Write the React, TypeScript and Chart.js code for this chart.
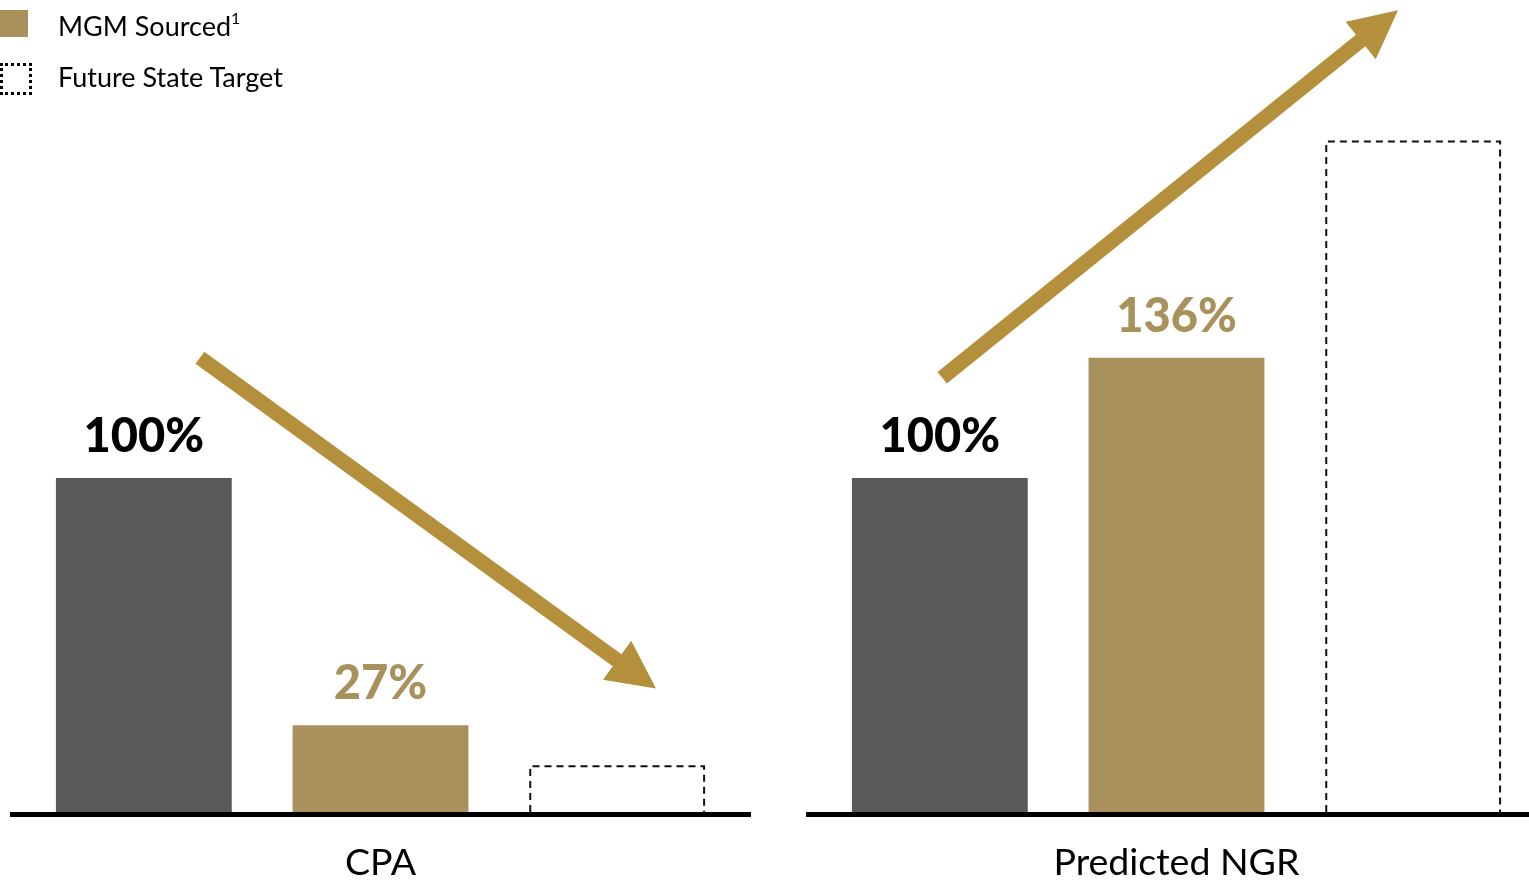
import React, { useEffect, useRef } from 'react';
import { Chart, registerables } from 'chart.js';

Chart.register(...registerables);

// ---- Data ----
const CATEGORIES = ['Current', 'MGM Sourced', 'Future State Target'];
const PANEL_TITLES = ['CPA', 'Predicted NGR'];
const CPA_VALUES = [100, 26, 14];
const CPA_LABELS = ['100%', '27%', ''];
const NGR_VALUES = [100, 136, 201];
const NGR_LABELS = ['100%', '136%', ''];
// arrows in data space: [fromCategoryIndex, fromValue, toCategoryIndex, toValue]
const CPA_ARROW = [0.237, 136, 2.164, 37];
const NGR_ARROW = [0.01, 130, 1.936, 240];
const Y_MAX = 243.1;
const LEGEND_ITEMS = ['MGM Sourced', 'Future State Target'];

const GRAY = '#595959';
const GOLD = '#a8915a';
const ARROW_GOLD = '#b5903c';
const FONT = 'Lato, "Open Sans", sans-serif';

function drawArrow(ctx: CanvasRenderingContext2D, x0: number, y0: number, x1: number, y1: number) {
  const shaft = 15;
  const headLen = 48;
  const headHalf = 24;
  const dx = x1 - x0;
  const dy = y1 - y0;
  const len = Math.hypot(dx, dy);
  const ux = dx / len;
  const uy = dy / len;
  const px = -uy;
  const py = ux;
  const bx = x1 - ux * headLen;
  const by = y1 - uy * headLen;
  ctx.save();
  ctx.fillStyle = ARROW_GOLD;
  ctx.beginPath();
  ctx.moveTo(x0 + px * shaft / 2, y0 + py * shaft / 2);
  ctx.lineTo(bx + px * shaft / 2, by + py * shaft / 2);
  ctx.lineTo(bx + px * headHalf, by + py * headHalf);
  ctx.lineTo(x1, y1);
  ctx.lineTo(bx - px * headHalf, by - py * headHalf);
  ctx.lineTo(bx - px * shaft / 2, by - py * shaft / 2);
  ctx.lineTo(x0 - px * shaft / 2, y0 - py * shaft / 2);
  ctx.closePath();
  ctx.fill();
  ctx.restore();
}

const panelPlugin = {
  id: 'panelDecor',
  afterDatasetsDraw(chart: any, _args: any, opts: any) {
    const ctx: CanvasRenderingContext2D = chart.ctx;
    const xs = chart.scales.x;
    const ys = chart.scales.y;
    const meta = chart.getDatasetMeta(0);
    const area = chart.chartArea;

    // dashed target bar
    const t = meta.data[2].getProps(['x', 'y', 'base', 'width'], true);
    const l = t.x - t.width / 2 + 1;
    const r = t.x + t.width / 2 - 1;
    ctx.save();
    ctx.strokeStyle = '#111';
    ctx.lineWidth = 2;
    ctx.setLineDash([7, 5]);
    ctx.beginPath();
    ctx.moveTo(l, t.base);
    ctx.lineTo(l, t.y + 1);
    ctx.lineTo(r, t.y + 1);
    ctx.lineTo(r, t.base);
    ctx.stroke();
    ctx.restore();

    // baseline
    ctx.save();
    ctx.fillStyle = '#000';
    ctx.fillRect(0, ys.getPixelForValue(0), chart.width, 5);
    ctx.restore();

    // value labels
    ctx.save();
    ctx.font = `900 47px ${FONT}`;
    ctx.textAlign = 'center';
    ctx.textBaseline = 'alphabetic';
    const labels: string[] = opts.labels;
    labels.forEach((lab, i) => {
      if (!lab) return;
      const el = meta.data[i];
      ctx.fillStyle = i === 0 ? '#000' : GOLD;
      ctx.fillText(lab, el.x, el.y - 26);
    });
    ctx.restore();

    // arrow
    const a: number[] = opts.arrow;
    drawArrow(
      ctx,
      xs.getPixelForValue(a[0]),
      ys.getPixelForValue(a[1]),
      xs.getPixelForValue(a[2]),
      ys.getPixelForValue(a[3])
    );

    // panel title
    ctx.save();
    ctx.font = `37.5px ${FONT}`;
    ctx.fillStyle = '#000';
    ctx.textAlign = 'center';
    ctx.textBaseline = 'alphabetic';
    ctx.fillText(opts.title, (area.left + area.right) / 2, 875);
    ctx.restore();
  },
};

function Panel(props: { values: number[]; labels: string[]; arrow: number[]; title: string; left: number }) {
  const ref = useRef<HTMLCanvasElement | null>(null);
  useEffect(() => {
    if (!ref.current) return;
    const chart = new Chart(ref.current, {
      type: 'bar',
      data: {
        labels: CATEGORIES,
        datasets: [
          {
            data: props.values,
            backgroundColor: [GRAY, GOLD, 'rgba(0,0,0,0)'],
            borderWidth: 0,
            barPercentage: 0.743,
            categoryPercentage: 1,
          },
        ],
      },
      options: {
        animation: false,
        responsive: true,
        maintainAspectRatio: false,
        layout: { padding: { left: 15.5, right: 15.5, top: 0, bottom: 68 } },
        scales: {
          x: { display: false },
          y: { display: false, min: 0, max: Y_MAX },
        },
        plugins: {
          legend: { display: false },
          tooltip: { enabled: false },
          panelDecor: { labels: props.labels, arrow: props.arrow, title: props.title },
        } as any,
      },
      plugins: [panelPlugin as any],
    });
    return () => chart.destroy();
  }, []);
  return (
    <div style={{ position: 'absolute', left: props.left, top: 0, width: 741, height: 880 }}>
      <canvas ref={ref} />
    </div>
  );
}

export default function App() {
  return (
    <div
      style={{
        position: 'fixed',
        left: 0,
        top: 0,
        width: 1529,
        height: 880,
        overflow: 'hidden',
        background: '#fff',
        fontFamily: FONT,
      }}
    >
      <Panel values={CPA_VALUES} labels={CPA_LABELS} arrow={CPA_ARROW} title={PANEL_TITLES[0]} left={10} />
      <Panel values={NGR_VALUES} labels={NGR_LABELS} arrow={NGR_ARROW} title={PANEL_TITLES[1]} left={806} />
      {/* legend */}
      <div style={{ position: 'absolute', left: 0, top: 10, width: 28, height: 27, background: GOLD }} />
      <div
        style={{
          position: 'absolute',
          left: 58,
          top: 12,
          fontSize: 27,
          lineHeight: '28px',
          color: '#000',
          whiteSpace: 'nowrap',
        }}
      >
        {LEGEND_ITEMS[0]}
        <sup style={{ fontSize: 16, lineHeight: 0, verticalAlign: 'baseline', position: 'relative', top: -12 }}>1</sup>
      </div>
      <div
        style={{
          position: 'absolute',
          left: 0,
          top: 63,
          width: 32,
          height: 32,
          boxSizing: 'border-box',
          border: '3px dotted #000',
        }}
      />
      <div
        style={{
          position: 'absolute',
          left: 58,
          top: 63,
          fontSize: 27,
          lineHeight: '28px',
          color: '#000',
          whiteSpace: 'nowrap',
        }}
      >
        {LEGEND_ITEMS[1]}
      </div>
    </div>
  );
}
